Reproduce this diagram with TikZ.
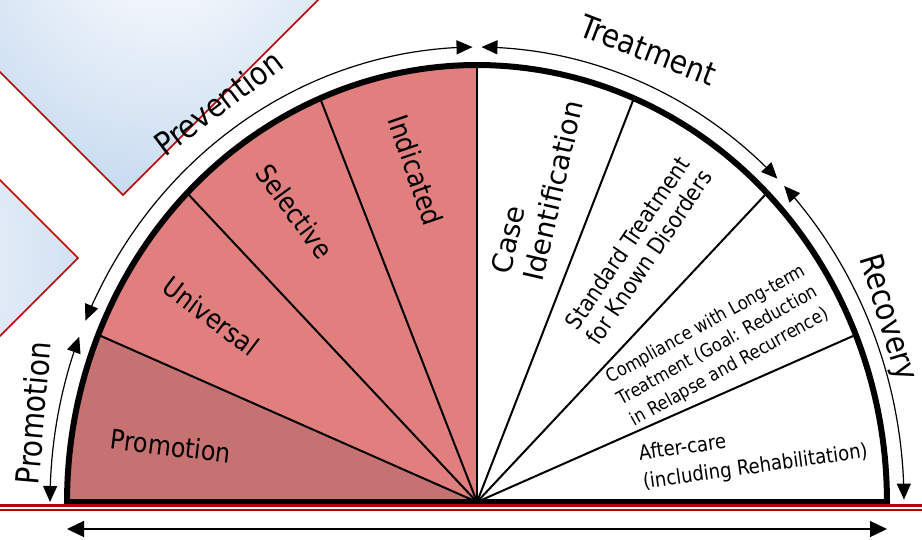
\documentclass[tikz,border=0pt]{standalone}
\usepackage{fontspec}
\setmainfont{DejaVu Sans}[FakeStretch=0.88]
\newfontfamily\widefont{DejaVu Sans}
\usetikzlibrary{arrows.meta}
\definecolor{promo}{RGB}{199,114,114}
\definecolor{prevfill}{RGB}{225,127,127}
\definecolor{bgblue}{RGB}{163,195,230}
\definecolor{redline}{RGB}{192,0,0}
\begin{document}
\begin{tikzpicture}[x=1pt,y=-1pt,
  lbl/.style={inner sep=0pt},
  outerlbl/.style={lbl,font=\fontsize{32}{36}\selectfont},
  innerlbl/.style={lbl,font=\fontsize{27}{32}\selectfont},
  span/.style={line width=1.2pt,{Triangle[length=16pt,width=14pt]}-{Triangle[length=16pt,width=14pt]}},
  divider/.style={line width=2pt},
]
\useasboundingbox (0,0) rectangle (922,539);
\fill[white] (0,0) rectangle (922,539);
% background decorative diamonds
\begin{scope}
  \clip (123,195) -- (373,-55) -- (123,-305) -- (-127,-55) -- cycle;
  \shade[inner color=white, outer color=bgblue] (165,-70) circle (440);
\end{scope}
\draw[redline,line width=1.5pt] (-127,-55) -- (123,195) -- (373,-55);
\begin{scope}
  \clip (78,258) -- (-172,8) -- (-422,258) -- (-172,508) -- cycle;
  \shade[inner color=white, outer color=bgblue] (-150,258) circle (460);
\end{scope}
\draw[redline,line width=1.5pt] (-172,8) -- (78,258) -- (-172,508);
% sectors
\coordinate (C) at (477,502);
\fill[promo] (C) -- plot[domain=157.5:180,samples=40] ({477+410*cos(\x)},{502-437*sin(\x)}) -- cycle;
\fill[prevfill] (C) -- plot[domain=90:157.5,samples=80] ({477+410*cos(\x)},{502-437*sin(\x)}) -- cycle;
\foreach \a in {22.5,45,67.5,90,112.5,135,157.5}
  \draw[divider] (C) -- ({477+410*cos(\a)},{502-437*sin(\a)});
% outline
\draw[line width=6pt,line join=miter] plot[domain=0:180,samples=150] ({477+410*cos(\x)},{502-437*sin(\x)}) -- cycle;
% base lines
\draw[redline,line width=3.5pt] (0,505.5) -- (922,505.5);
\draw[redline,line width=2.3pt] (0,510.3) -- (922,510.3);
% outer spans
\draw[span] plot[domain=158.7:180,samples=30] ({477+427*cos(\x)},{502-455*sin(\x)});
\draw[span] plot[domain=90.6:156.5,samples=80] ({477+427*cos(\x)},{502-455*sin(\x)});
\draw[span] plot[domain=45.3:89.4,samples=60] ({477+427*cos(\x)},{502-455*sin(\x)});
\draw[span] plot[domain=0.3:44,samples=60] ({477+427*cos(\x)},{502-455*sin(\x)});
% bottom arrow
\coordinate (bl) at (67,529);
\coordinate (br) at (887,529);
\draw[line width=1.4pt,{Triangle[length=17pt,width=16pt]}-{Triangle[length=17pt,width=16pt]}] (bl) -- (br);
% outer labels
\node[outerlbl,rotate=37] (prevention) at (218,103) {Prevention};
\node[outerlbl,rotate=-21] (treatment) at (648,50) {Treatment};
\node[outerlbl,rotate=-73] (recovery) at (887,318) {Recovery};
\node[outerlbl,rotate=85] (promoout) at (33,413) {Promotion};
% inner labels
\node[innerlbl,rotate=-7] (promo) at (171,446) {Promotion};
\node[innerlbl,rotate=-37] (universal) at (211,316) {Universal};
\node[innerlbl,rotate=-54] (selective) at (295,211) {Selective};
\node[innerlbl,rotate=-71,font=\fontsize{28}{32}\selectfont] (indicated) at (416,170) {Indicated};
\node[lbl,rotate=77,align=left,font=\widefont\fontsize{28}{33}\selectfont] (caseid) at (537,187) {Case\\Identification};
\node[lbl,rotate=56,align=center,font=\fontsize{23}{26}\selectfont] (standard) at (638,250) {Standard Treatment\\for Known Disorders};
\node[lbl,rotate=29,align=center,font=\fontsize{18.5}{24.5}\selectfont] (compliance) at (718,346) {Compliance with Long-term\\Treatment (Goal: Reduction\\in Relapse and Recurrence)};
\node[lbl,rotate=8,align=left,anchor=west,font=\fontsize{20.5}{29}\selectfont] (aftercare) at (641,469) {After-care\\(including Rehabilitation)};
\end{tikzpicture}
\end{document}
